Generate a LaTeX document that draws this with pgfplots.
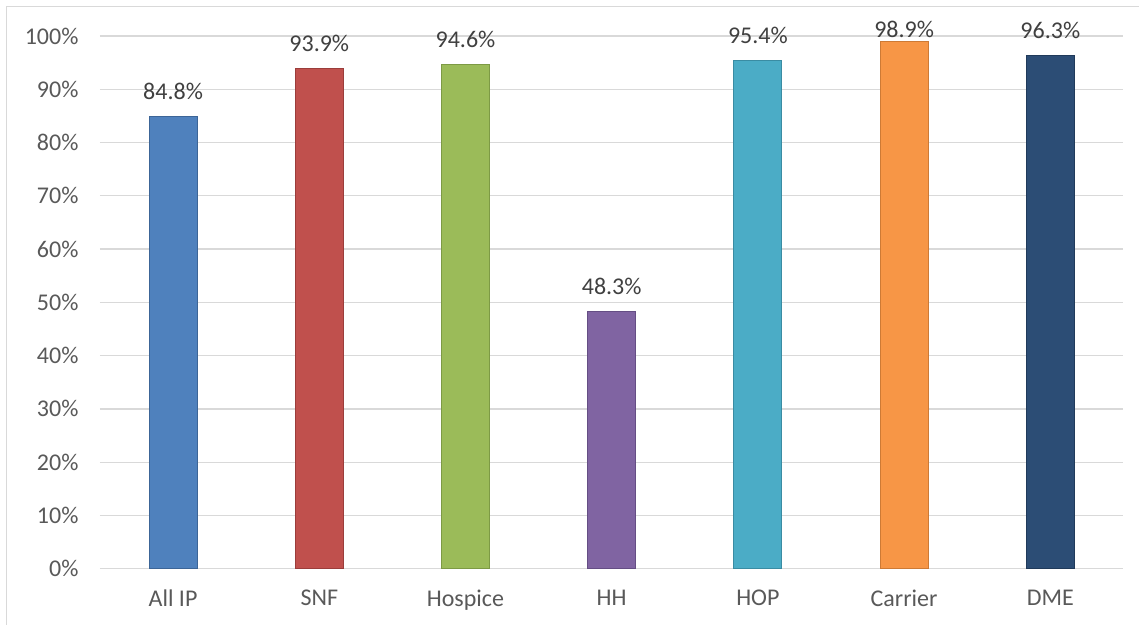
\documentclass[border=0pt]{standalone}
\usepackage{pgfplots}
\pgfplotsset{compat=1.18}
\usepackage{fontspec}
\setmainfont{Carlito}
\definecolor{gridc}{HTML}{D9D9D9}
\definecolor{txt}{HTML}{404040}
\definecolor{tick}{HTML}{595959}
\definecolor{c1}{HTML}{4F81BD}\definecolor{d1}{HTML}{3C6597}
\definecolor{c2}{HTML}{C0504D}\definecolor{d2}{HTML}{9B3D3B}
\definecolor{c3}{HTML}{9BBB59}\definecolor{d3}{HTML}{7D9A45}
\definecolor{c4}{HTML}{8064A2}\definecolor{d4}{HTML}{654E84}
\definecolor{c5}{HTML}{4BACC6}\definecolor{d5}{HTML}{3A8CA3}
\definecolor{c6}{HTML}{F79646}\definecolor{d6}{HTML}{CD7A35}
\definecolor{c7}{HTML}{2C4D75}\definecolor{d7}{HTML}{203A5A}
\begin{document}
\begin{tikzpicture}[x=1pt,y=1pt]
\path (0,0) rectangle (1139,625);
\draw[gridc, line width=1pt] (7,0) -- (7,618) -- (1139,618);
\begin{axis}[
  at={(100pt,56pt)}, anchor=south west,
  scale only axis, width=1024pt, height=533pt,
  xmin=-0.5, xmax=6.5, ymin=0, ymax=100,
  axis line style={draw=none},
  xtick={0,...,6},
  xticklabels={All IP,SNF,Hospice,HH,HOP,Carrier,DME},
  ytick={0,10,...,100},
  yticklabel={\pgfmathprintnumber{\tick}\%},
  /pgf/number format/assume math mode=true,
  major tick length=0pt,
  ymajorgrids, grid style={gridc, line width=1.3pt},
  tick label style={font=\fontsize{24}{28}\selectfont, text=tick},
  yticklabel style={xshift=-18pt},
  xticklabel style={yshift=-18pt},
  ybar, bar width=48pt, bar shift=0pt,
  nodes near coords={\pgfmathprintnumber[fixed,fixed zerofill,precision=1]{\pgfplotspointmeta}\%},
  nodes near coords style={font=\fontsize{24}{28}\selectfont, text=txt, anchor=south, yshift=13pt, /pgf/number format/assume math mode=true},
]
\addplot[fill=c1, draw=d1, line width=1pt] coordinates {(0,84.8)};
\addplot[fill=c2, draw=d2, line width=1pt] coordinates {(1,93.9)};
\addplot[fill=c3, draw=d3, line width=1pt] coordinates {(2,94.6)};
\addplot[fill=c4, draw=d4, line width=1pt] coordinates {(3,48.3)};
\addplot[fill=c5, draw=d5, line width=1pt] coordinates {(4,95.4)};
\addplot[fill=c6, draw=d6, line width=1pt, every node near coord/.append style={yshift=-13pt}] coordinates {(5,98.9)};
\addplot[fill=c7, draw=d7, line width=1pt] coordinates {(6,96.3)};
\end{axis}
\end{tikzpicture}
\end{document}
